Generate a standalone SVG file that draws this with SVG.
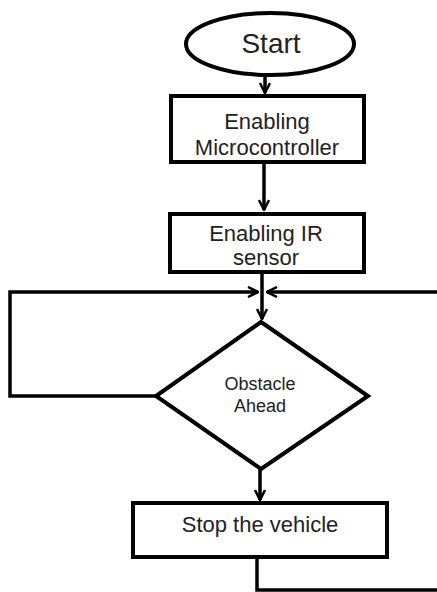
<svg xmlns="http://www.w3.org/2000/svg" width="437" height="592" viewBox="0 0 437 592">
<style>
.shape{fill:#fff;stroke:#000;stroke-width:4}
.ln{fill:none;stroke:#000;stroke-width:3.5}
.t{font-family:"Liberation Sans",Arial,sans-serif;fill:#222;text-anchor:middle}
</style>
<defs>
<marker id="ah" viewBox="0 0 12 12" refX="11" refY="6" markerWidth="12" markerHeight="12" orient="auto" markerUnits="userSpaceOnUse">
<path d="M1,1 L11,6 L1,11" fill="none" stroke="#000" stroke-width="2.5"/>
</marker>
</defs>
<rect width="437" height="592" fill="#fff"/>
<g id="connectors">
<line class="ln" x1="265" y1="75" x2="265" y2="93" marker-end="url(#ah)"/>
<line class="ln" x1="264" y1="163" x2="264" y2="210" marker-end="url(#ah)"/>
<line class="ln" x1="262" y1="272" x2="262" y2="319" marker-end="url(#ah)"/>
<polyline class="ln" points="156,396 10,396 10,292 258,292" marker-end="url(#ah)"/>
<polyline class="ln" points="437,292 267,292" marker-end="url(#ah)"/>
<line class="ln" x1="260" y1="469" x2="260" y2="500" marker-end="url(#ah)"/>
<polyline class="ln" points="257,557 257,590 437,590"/>
</g>
<g id="start">
<ellipse class="shape" cx="270" cy="44" rx="84" ry="31" stroke-width="3"/>
<text class="t" x="271" y="53" font-size="28">Start</text>
</g>
<g id="enable-mc">
<rect class="shape" x="171" y="96" width="193" height="66"/>
<text class="t" x="267" y="129" font-size="22">Enabling</text>
<text class="t" x="267" y="155" font-size="22">Microcontroller</text>
</g>
<g id="enable-ir">
<rect class="shape" x="170" y="214" width="194" height="58"/>
<text class="t" x="266" y="241" font-size="22">Enabling IR</text>
<text class="t" x="266" y="265" font-size="22">sensor</text>
</g>
<g id="obstacle">
<polygon class="shape" points="261,322 368,396 261,469 156,396"/>
<text class="t" x="260" y="390" font-size="18">Obstacle</text>
<text class="t" x="260" y="412" font-size="18">Ahead</text>
</g>
<g id="stop">
<rect class="shape" x="133" y="503" width="254" height="54"/>
<text class="t" x="260" y="532" font-size="22">Stop the vehicle</text>
</g>
</svg>
